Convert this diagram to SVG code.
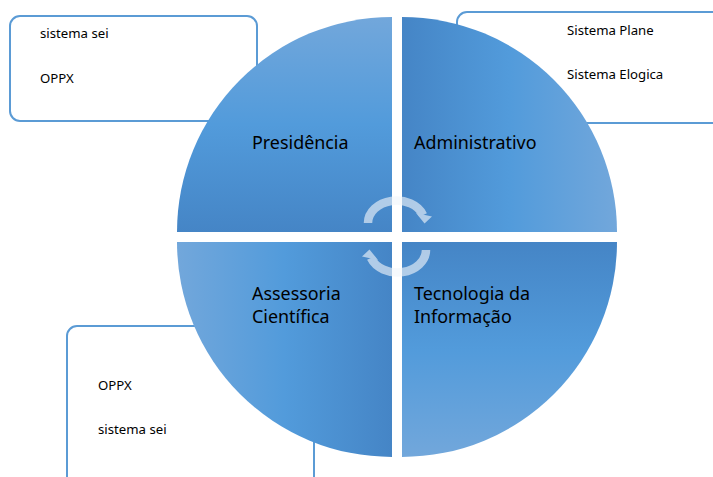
<svg xmlns="http://www.w3.org/2000/svg" width="713" height="477" viewBox="0 0 713 477">
<defs>
<linearGradient id="gTL" x1="0" y1="0" x2="0" y2="1">
<stop offset="0" stop-color="#72a7db"/><stop offset="0.5" stop-color="#529bdb"/><stop offset="1" stop-color="#4585c6"/>
</linearGradient>
<linearGradient id="gTR" x1="0" y1="0" x2="1" y2="0">
<stop offset="0" stop-color="#4585c6"/><stop offset="0.5" stop-color="#529bdb"/><stop offset="1" stop-color="#72a7db"/>
</linearGradient>
<linearGradient id="gBR" x1="0" y1="0" x2="0" y2="1">
<stop offset="0" stop-color="#4585c6"/><stop offset="0.5" stop-color="#529bdb"/><stop offset="1" stop-color="#72a7db"/>
</linearGradient>
<linearGradient id="gBL" x1="0" y1="0" x2="1" y2="0">
<stop offset="0" stop-color="#72a7db"/><stop offset="0.5" stop-color="#529bdb"/><stop offset="1" stop-color="#4585c6"/>
</linearGradient>
<style>
.box{fill:#fff;stroke:#5b9bd5;stroke-width:2}
.small{font-family:"Noto Sans","Open Sans",sans-serif;font-size:13.2px;fill:#000}
.lbl{font-family:"Noto Sans","Open Sans",sans-serif;font-size:17.9px;fill:#000}
.arc{fill:none;stroke:#f2f6fb;stroke-width:8.5}
.head{fill:#f2f6fb}
</style>
</defs>
<rect width="713" height="477" fill="#fff"/>
<g id="box-presidencia">
<rect class="box" x="10" y="16" width="247" height="105" rx="10"/>
<text class="small" x="40" y="38">sistema sei</text>
<text class="small" x="40" y="83">OPPX</text>
</g>
<g id="box-administrativo">
<rect class="box" x="457" y="12" width="300" height="111" rx="10"/>
<text class="small" x="567" y="35">Sistema Plane</text>
<text class="small" x="567" y="79">Sistema Elogica</text>
</g>
<g id="box-assessoria">
<rect class="box" x="67" y="326" width="247" height="200" rx="10"/>
<text class="small" x="98" y="390">OPPX</text>
<text class="small" x="98" y="434">sistema sei</text>
</g>
<g id="node-presidencia">
<path d="M392,232 L177,232 A215,215 0 0 1 392,17 Z" fill="url(#gTL)"/>
<text class="lbl" x="252" y="149">Presidência</text>
</g>
<g id="node-administrativo">
<path d="M402,232 L402,17 A215,215 0 0 1 617,232 Z" fill="url(#gTR)"/>
<text class="lbl" x="414" y="149">Administrativo</text>
</g>
<g id="node-tecnologia">
<path d="M402,242 L617,242 A215,215 0 0 1 402,457 Z" fill="url(#gBR)"/>
<text class="lbl" x="414" y="300">Tecnologia da</text>
<text class="lbl" x="414" y="322.5">Informação</text>
</g>
<g id="node-assessoria">
<path d="M392,242 L392,457 A215,215 0 0 1 177,242 Z" fill="url(#gBL)"/>
<text class="lbl" x="252" y="300">Assessoria</text>
<text class="lbl" x="252" y="322.5">Científica</text>
</g>
<g id="connectors" opacity="0.62">
<path class="arc" d="M368,223 A28.5,22.5 0 0 1 423.1,215"/>
<polygon class="head" points="416,213 432,216.5 424.5,223.5"/>
<path class="arc" d="M426,250 A28.5,22.5 0 0 1 370.9,258"/>
<polygon class="head" points="378,260 362,256.5 369.5,249.5"/>
</g>
</svg>
